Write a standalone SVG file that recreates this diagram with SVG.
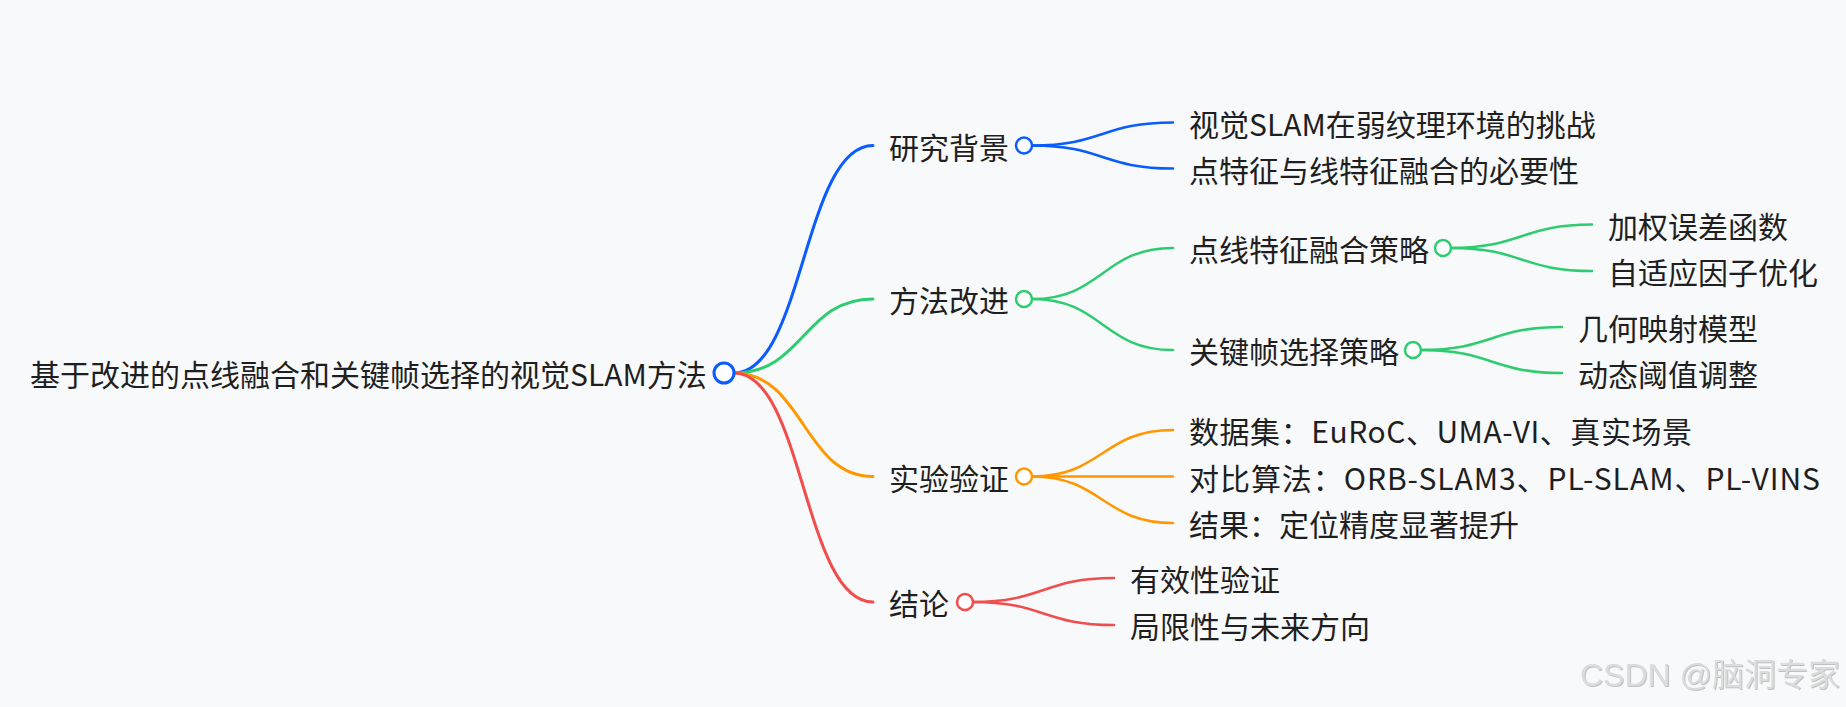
<svg xmlns="http://www.w3.org/2000/svg" width="1846" height="707" viewBox="0 0 1846 707">
<defs>
<style>
.t{font-family:"Noto Sans CJK SC","Noto Sans",sans-serif;font-size:30px;fill:#1f1f1f;dominant-baseline:central}
.e{fill:none;stroke-width:2.5;stroke-linecap:round}
.c{fill:#ffffff;stroke-width:2.5}
.b{stroke:#0b5cff}.g{stroke:#2ecc71}.o{stroke:#ff9800}.r{stroke:#f24d4d}
.wm{font-family:"Liberation Sans","Noto Sans CJK SC",sans-serif;font-size:32px;fill:#dcdcdc}
</style>
<filter id="emb" x="-5%" y="-20%" width="110%" height="140%">
<feDropShadow dx="1" dy="1" stdDeviation="0.6" flood-color="#9a9a9a" flood-opacity="0.6"/>
</filter>
</defs>
<rect width="1846" height="707" fill="#f8f9fa"/>
<g id="connectors">
<path class="e b" style="stroke-width:3" d="M734,373 C803.5,373 803.5,145.5 873,145.5"/>
<path class="e g" style="stroke-width:3" d="M734,373 C803.5,373 803.5,299 873,299"/>
<path class="e o" style="stroke-width:3" d="M734,373 C803.5,373 803.5,476.5 873,476.5"/>
<path class="e r" style="stroke-width:3" d="M734,373 C803.5,373 803.5,602 873,602"/>
<path class="e b" d="M1032,145.5 C1102.5,145.5 1102.5,122.5 1173,122.5"/>
<path class="e b" d="M1032,145.5 C1102.5,145.5 1102.5,168.5 1173,168.5"/>
<path class="e g" d="M1032,299 C1102.5,299 1102.5,248 1173,248"/>
<path class="e g" d="M1032,299 C1102.5,299 1102.5,350 1173,350"/>
<path class="e g" d="M1451,248 C1521.5,248 1521.5,224.5 1592,224.5"/>
<path class="e g" d="M1451,248 C1521.5,248 1521.5,271 1592,271"/>
<path class="e g" d="M1421,350 C1491.5,350 1491.5,327 1562,327"/>
<path class="e g" d="M1421,350 C1491.5,350 1491.5,373 1562,373"/>
<path class="e o" d="M1032,476.5 C1102.5,476.5 1102.5,430 1173,430"/>
<path class="e o" d="M1032,476.5 L1173,476.5"/>
<path class="e o" d="M1032,476.5 C1102.5,476.5 1102.5,523 1173,523"/>
<path class="e r" d="M973,602 C1043.5,602 1043.5,578 1114,578"/>
<path class="e r" d="M973,602 C1043.5,602 1043.5,625 1114,625"/>
</g>
<g id="root">
<text class="t" x="30" y="373">基于改进的点线融合和关键帧选择的视觉SLAM方法</text>
<circle class="c b" style="stroke-width:3" cx="724" cy="373" r="10"/>
</g>
<g id="n-bg">
<text class="t" x="889" y="145.5">研究背景</text>
<circle class="c b" cx="1024" cy="145.5" r="8"/>
</g>
<g id="n-bg1"><text class="t" x="1189" y="122.5">视觉SLAM在弱纹理环境的挑战</text></g>
<g id="n-bg2"><text class="t" x="1189" y="168.5">点特征与线特征融合的必要性</text></g>
<g id="n-method">
<text class="t" x="889" y="299">方法改进</text>
<circle class="c g" cx="1024" cy="299" r="8"/>
</g>
<g id="n-fusion">
<text class="t" x="1189" y="248">点线特征融合策略</text>
<circle class="c g" cx="1443" cy="248" r="8"/>
</g>
<g id="n-fusion1"><text class="t" x="1608" y="224.5">加权误差函数</text></g>
<g id="n-fusion2"><text class="t" x="1608" y="271">自适应因子优化</text></g>
<g id="n-kf">
<text class="t" x="1189" y="350">关键帧选择策略</text>
<circle class="c g" cx="1413" cy="350" r="8"/>
</g>
<g id="n-kf1"><text class="t" x="1578" y="327">几何映射模型</text></g>
<g id="n-kf2"><text class="t" x="1578" y="373">动态阈值调整</text></g>
<g id="n-exp">
<text class="t" x="889" y="476.5">实验验证</text>
<circle class="c o" cx="1024" cy="476.5" r="8"/>
</g>
<g id="n-exp1"><text class="t" x="1189" y="430" textLength="503" lengthAdjust="spacing">数据集：EuRoC、UMA-VI、真实场景</text></g>
<g id="n-exp2"><text class="t" x="1189" y="476.5" textLength="631" lengthAdjust="spacing">对比算法：ORB-SLAM3、PL-SLAM、PL-VINS</text></g>
<g id="n-exp3"><text class="t" x="1189" y="523">结果：定位精度显著提升</text></g>
<g id="n-con">
<text class="t" x="889" y="602">结论</text>
<circle class="c r" cx="965" cy="602" r="8"/>
</g>
<g id="n-con1"><text class="t" x="1130" y="578">有效性验证</text></g>
<g id="n-con2"><text class="t" x="1130" y="625">局限性与未来方向</text></g>
<text class="wm" x="1840" y="686" text-anchor="end" filter="url(#emb)">CSDN @脑洞专家</text>
</svg>
